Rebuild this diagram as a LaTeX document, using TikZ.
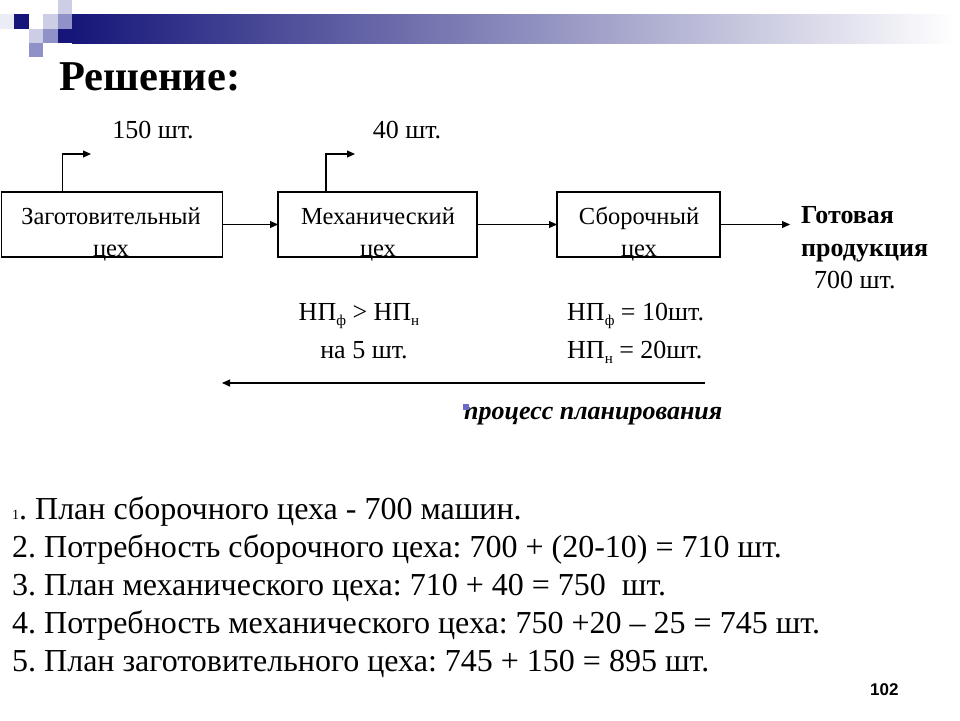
\documentclass[tikz,border=0pt]{standalone}
\usepackage{fontspec}
\setmainfont{Liberation Serif}
\newfontfamily\arialfont{Liberation Sans}
\usetikzlibrary{arrows.meta,calc}
\definecolor{navy}{RGB}{22,22,122}
\definecolor{medsq}{RGB}{145,145,202}
\definecolor{lightsq}{RGB}{205,205,230}
\definecolor{faintsq}{RGB}{236,236,246}
\definecolor{bulletc}{RGB}{105,105,205}
\newcommand{\mysub}[1]{\raisebox{-0.45ex}{\fontsize{15}{15}\selectfont #1}}
\frenchspacing
\begin{document}
\begin{tikzpicture}[x=1pt,y=-1pt,
  box/.style={draw, line width=1.1pt, inner sep=0pt, outer sep=0pt},
  arr/.style={line width=1.1pt, -{Triangle[length=8pt,width=7pt]}},
  txt/.style={font=\fontsize{24.5}{28}\selectfont, inner sep=0pt, anchor=base},
  lbl/.style={font=\fontsize{26}{30}\selectfont, inner sep=0pt, anchor=base},
  bld/.style={font=\fontsize{26}{30}\selectfont\bfseries, inner sep=0pt, anchor=base west},
  lst/.style={font=\fontsize{32}{36}\selectfont, inner sep=0pt, anchor=base west},
]
\useasboundingbox (0,0) rectangle (960,720);
% header decoration
\shade[left color=navy, right color=white] (72,14) rectangle (955,43);
\fill[faintsq] (0,14) rectangle (14,29);
\fill[navy] (14,14) rectangle (29,29);
\fill[lightsq] (58,0) rectangle (72,14);
\fill[lightsq] (43,14) rectangle (58,29);
\fill[medsq] (58,14) rectangle (72,29);
\fill[lightsq] (29,29) rectangle (43,43);
\fill[medsq] (43,29) rectangle (58,43);
\fill[navy] (58,29) rectangle (72.5,43);
\fill[medsq] (29,43) rectangle (43,57);
% title
\node[inner sep=0pt, anchor=base west, font=\fontsize{42.5}{46}\selectfont\bfseries] (title) at (59,90) {Решение:};
% boxes
\node[box, minimum width=221pt, minimum height=65pt] (b1) at (112,224.5) {};
\node[box, minimum width=199pt, minimum height=65pt] (b2) at (377.5,224.5) {};
\node[box, minimum width=163pt, minimum height=65pt] (b3) at (638.5,224.5) {};
\node[txt] (b1a) at (111,224) {Заготовительный};
\node[txt] (b1b) at (111,256) {цех};
\node[txt] (b2a) at (378,224) {Механический};
\node[txt] (b2b) at (378,256) {цех};
\node[txt] (b3a) at (639,224) {Сборочный};
\node[txt] (b3b) at (639,256) {цех};
% flow arrows
\coordinate (gp) at (790,224.5);
\draw[arr] (b1.east) -- (b2.west);
\draw[arr] (b2.east) -- (b3.west);
\draw[arr] (b3.east) -- (gp);
% output arrows
\coordinate (u1) at (91,154);
\coordinate (u2) at (355,154);
\draw[arr] ($(b1.north west)+(61,0)$) |- (u1);
\draw[arr] ($(b2.north west)+(48,0)$) |- (u2);
\node[lbl] (l1) at (153,138) {150 шт.};
\node[lbl] (l2) at (407,138) {40 шт.};
% finished product
\node[bld] (gp1) at (801,223) {Готовая};
\node[bld] (gp2) at (801,256) {продукция};
\node[lbl, anchor=base west] (gp3) at (814,288) {700 шт.};
% stocks
\node[lbl] (np1) at (359,320) {НП\mysub{ф} > НП\mysub{н}};
\node[lbl] (np2) at (364,358) {на 5 шт.};
\node[lbl, anchor=base west] (np3) at (567,320) {НП\mysub{ф} = 10шт.};
\node[lbl, anchor=base west] (np4) at (567,358) {НП\mysub{н} = 20шт.};
% planning arrow
\coordinate (pa) at (705,383);
\coordinate (pb) at (222,383);
\draw[arr] (pa) -- (pb);
\node[bld, font=\fontsize{26}{30}\selectfont\bfseries\itshape] (pp) at (464,419) {процесс планирования};
\fill[bulletc] (463,404) rectangle (469,410);
% list
\node[lst] (s1) at (12,519) {{\fontsize{14}{16}\selectfont 1}. План сборочного цеха - 700 машин.};
\node[lst] (s2) at (12,557) {2. Потребность сборочного цеха: 700 + (20-10) = 710 шт.};
\node[lst] (s3) at (12,595) {3. План механического цеха: 710 + 40 = 750 \ шт.};
\node[lst] (s4) at (12,633) {4. Потребность механического цеха: 750 +20 – 25 = 745 шт.};
\node[lst] (s5) at (12,671) {5. План заготовительного цеха: 745 + 150 = 895 шт.};
% page number
\node[inner sep=0pt, anchor=base west, font=\arialfont\bfseries\fontsize{17}{20}\selectfont] (pn) at (870,695) {102};
\end{tikzpicture}
\end{document}
